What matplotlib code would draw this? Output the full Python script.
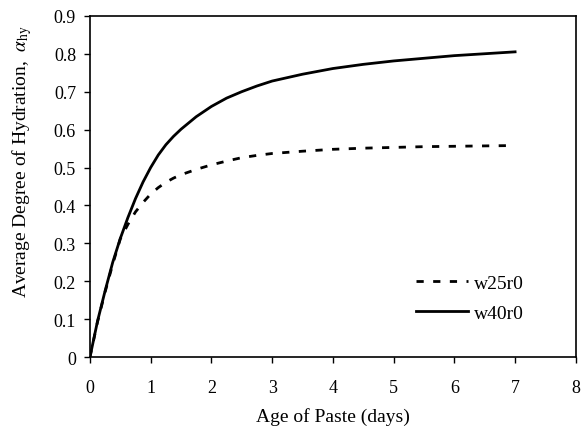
import matplotlib
matplotlib.use("Agg")
import matplotlib.pyplot as plt

# edad de la pasta (dias)
dias = [0, 0.125, 0.25, 0.375, 0.5, 0.625, 0.75, 0.875, 1, 1.125, 1.25, 1.375,
        1.5, 1.75, 2, 2.25, 2.5, 2.75, 3, 3.5, 4, 4.5, 5, 5.5, 6, 6.5, 7]

# grado de hidratacion promedio
w25r0 = [0, 0.093, 0.172, 0.245, 0.312, 0.35, 0.383, 0.408, 0.43, 0.447,
         0.461, 0.472, 0.481, 0.495, 0.507, 0.517, 0.526, 0.532, 0.537,
         0.543, 0.548, 0.551, 0.553, 0.555, 0.556, 0.557, 0.558]
w40r0 = [0, 0.095, 0.175, 0.25, 0.313, 0.368, 0.418, 0.462, 0.5, 0.533,
         0.56, 0.582, 0.601, 0.634, 0.661, 0.683, 0.70, 0.715, 0.728, 0.746,
         0.761, 0.772, 0.781, 0.788, 0.795, 0.800, 0.805]

xticks = [0, 1, 2, 3, 4, 5, 6, 7, 8]
yticks = [0, 0.1, 0.2, 0.3, 0.4, 0.5, 0.6, 0.7, 0.8, 0.9]

plt.rcParams["font.family"] = ["Liberation Serif", "DejaVu Serif"]
plt.rcParams["mathtext.fontset"] = "stix"

fig = plt.figure(figsize=(5.84, 4.31), dpi=100)
ax = fig.add_axes([0.154, 0.169, 0.832, 0.792])

ax.plot(dias, w25r0, color="black", lw=2.0, linestyle=(0, (2.6, 3.4)), label="w25r0")
ax.plot(dias, w40r0, color="black", lw=2.0, label="w40r0")

ax.set_xlim(0, 8)
ax.set_ylim(0, 0.9)
ax.set_xticks(xticks)
ax.set_yticks(yticks)
ax.set_xticklabels([str(t) for t in xticks])
ax.set_yticklabels(["0"] + ["%.1f" % t for t in yticks[1:]])
ax.tick_params(direction="out", length=4, width=1.0, labelsize=13)
ax.tick_params(axis="x", pad=12)
ax.tick_params(axis="y", pad=6)
for s in ax.spines.values():
    s.set_linewidth(1.2)

ax.set_xlabel("Age of Paste (days)", fontsize=14, labelpad=8)
ax.set_ylabel(r"Average Degree of Hydration,  $\alpha_{\rm hy}$", fontsize=14)
ax.yaxis.set_label_coords(-0.115, 0.575)

ax.legend(loc="upper left", bbox_to_anchor=(0.671, 0.242), frameon=False,
          borderpad=0, borderaxespad=0,
          fontsize=14, handlelength=2.7, handletextpad=0.3, labelspacing=0.62)

fig.savefig("out.png", dpi=100)
